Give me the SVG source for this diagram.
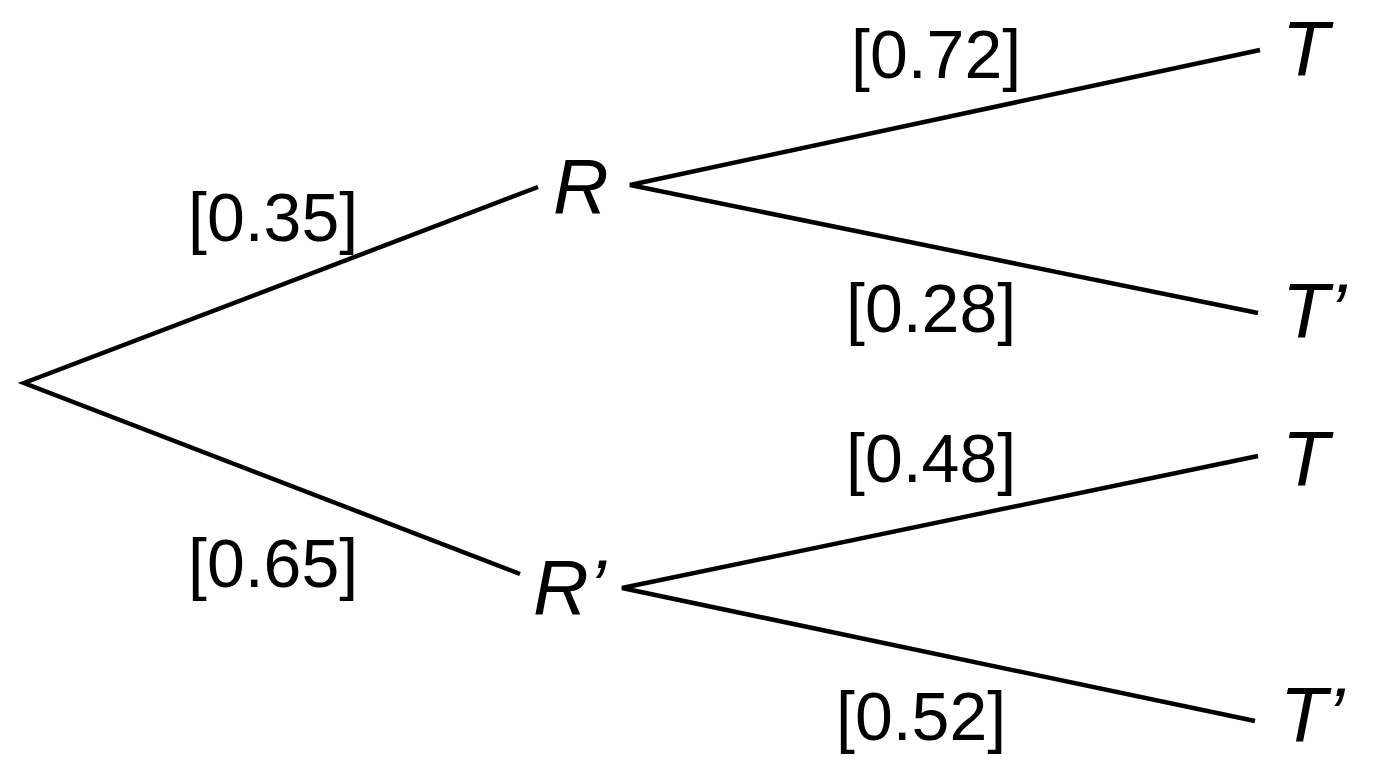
<svg xmlns="http://www.w3.org/2000/svg" width="1376" height="768" viewBox="0 0 1376 768">
<style>
.edge{stroke:#000;stroke-width:4.5;fill:none;stroke-linecap:butt}
.p{font-family:"Liberation Sans",Arial,sans-serif;font-size:68px;fill:#000}
.n{font-family:"Liberation Sans",Arial,sans-serif;font-size:77px;font-style:italic;fill:#000}
</style>
<rect width="1376" height="768" fill="#fff"/>
<g id="connectors">
<polyline class="edge" points="538,187 24,383 520,574"/>
<polyline class="edge" points="1260,50 630,185 1258,313"/>
<polyline class="edge" points="1258,456 622,588 1255,721"/>
</g>
<g id="node-R"><text class="n" x="553" y="213">R</text></g>
<g id="node-Rp"><text class="n" x="533" y="614">R’</text></g>
<g id="node-T1"><text class="n" x="1282" y="76">T</text></g>
<g id="node-Tp1"><text class="n" x="1282" y="338">T’</text></g>
<g id="node-T2"><text class="n" x="1282" y="486">T</text></g>
<g id="node-Tp2"><text class="n" x="1280" y="742">T’</text></g>
<g id="labels">
<text class="p" x="188" y="241">[0.35]</text>
<text class="p" x="188" y="587">[0.65]</text>
<text class="p" x="851" y="78">[0.72]</text>
<text class="p" x="846" y="332">[0.28]</text>
<text class="p" x="846" y="482">[0.48]</text>
<text class="p" x="836" y="740">[0.52]</text>
</g>
</svg>
